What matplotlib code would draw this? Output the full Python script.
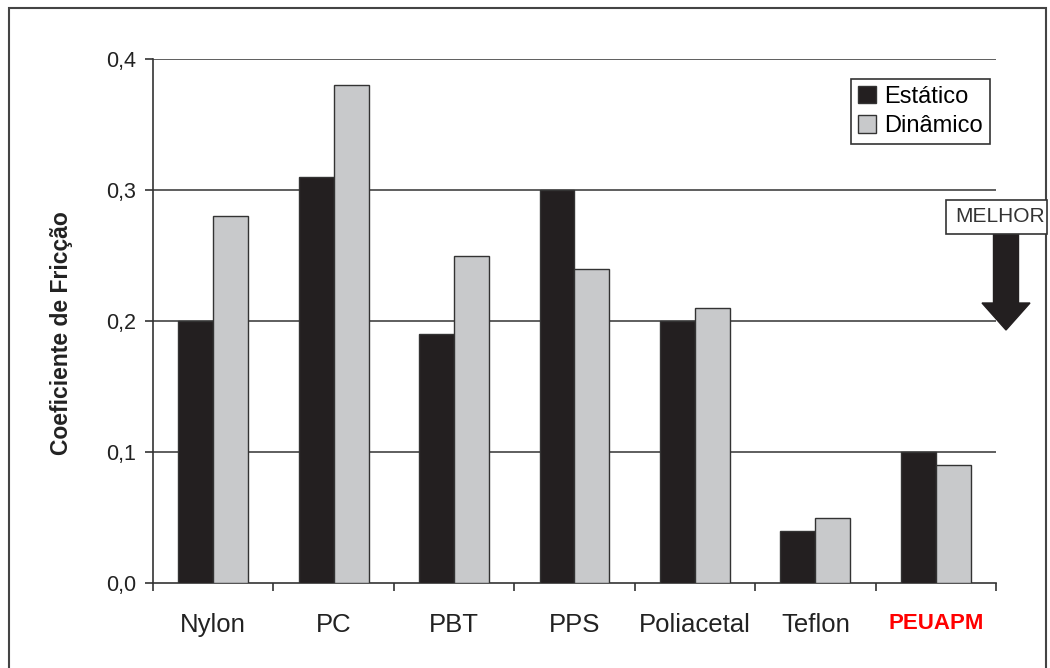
import numpy as np
import matplotlib
matplotlib.use("Agg")
import matplotlib.pyplot as plt
from matplotlib.patches import Rectangle, FancyArrow
from matplotlib.ticker import FixedLocator

plt.rcParams['font.family'] = ['Liberation Sans', 'DejaVu Sans']

materiais = ["Nylon", "PC", "PBT", "PPS", "Poliacetal", "Teflon", "PEUAPM"]
estatico = [0.20, 0.31, 0.19, 0.30, 0.20, 0.04, 0.10]
dinamico = [0.28, 0.38, 0.25, 0.24, 0.21, 0.05, 0.09]
yticks = [0.0, 0.1, 0.2, 0.3, 0.4]
ytick_labels = ["0,0", "0,1", "0,2", "0,3", "0,4"]

fig = plt.figure(figsize=(10.5, 6.68), dpi=100)
ax = fig.add_axes([153/1050, 1 - 583/668, (996 - 153)/1050, (583 - 59)/668])

x = np.arange(len(materiais))
w = 0.29
edge = "#333333"
ax.bar(x - w/2, estatico, w, color="#231f20", edgecolor=edge, linewidth=1, label="Estático", zorder=3)
ax.bar(x + w/2, dinamico, w, color="#c8c9cb", edgecolor=edge, linewidth=1, label="Dinâmico", zorder=3)

ax.set_xlim(-0.5, len(materiais) - 0.5)
ax.set_ylim(0, 0.4)
ax.set_yticks(yticks)
ax.set_yticklabels(ytick_labels, fontsize=15.5, color="#222222")
ax.set_xticks(x)
ax.set_xticklabels(materiais, fontsize=18.5, color="#222222")
ax.get_xticklabels()[-1].set_color("red")
ax.get_xticklabels()[-1].set_fontweight("bold")
ax.get_xticklabels()[-1].set_fontsize(16)
ax.xaxis.set_minor_locator(FixedLocator(np.arange(-0.5, len(materiais), 1.0)))
ax.tick_params(axis="x", which="major", length=0, pad=21.5)
ax.tick_params(axis="x", which="minor", length=6, width=1.2, color=edge, direction="out")
ax.tick_params(axis="y", length=6, width=1.2, color=edge, pad=6)

for yv in yticks[1:]:
    ax.axhline(yv, color=edge, linewidth=1.1, zorder=1)

for s in ["top", "right"]:
    ax.spines[s].set_visible(False)
for s in ["left", "bottom"]:
    ax.spines[s].set_color(edge)
    ax.spines[s].set_linewidth(1.2)

ax.set_ylabel("Coeficiente de Fricção", fontsize=16.5, fontweight="bold", color="#222222")
ax.yaxis.set_label_coords(-0.095, 0.477)

leg = ax.legend(loc="upper right", bbox_to_anchor=(990/1050, 1 - 79/668),
                bbox_transform=fig.transFigure, fontsize=17, frameon=True,
                fancybox=False, edgecolor=edge, framealpha=1, handlelength=0.75,
                handleheight=0.75, handletextpad=0.35, borderpad=0.3,
                labelspacing=0.3, borderaxespad=0)
leg.get_frame().set_linewidth(1.2)

# moldura externa
fig.add_artist(Rectangle((9/1050, -0.05), (1046 - 9)/1050, 1.05 - 8/668,
                         transform=fig.transFigure, fill=False,
                         edgecolor="#444444", linewidth=1.5))

# seta "MELHOR"
fig.add_artist(FancyArrow(10.06, 4.34, 0, -0.96, width=0.25, head_width=0.48,
                          head_length=0.27, length_includes_head=True,
                          transform=fig.dpi_scale_trans, color="#231f20"))
fig.add_artist(Rectangle((9.46, 4.34), 1.01, 0.34, transform=fig.dpi_scale_trans,
                         facecolor="white", edgecolor=edge, linewidth=1.2))
fig.text(10.0, 4.51, "MELHOR", transform=fig.dpi_scale_trans, fontsize=15,
         color="#333333", ha="center", va="center")

fig.savefig("out.png", dpi=100)
